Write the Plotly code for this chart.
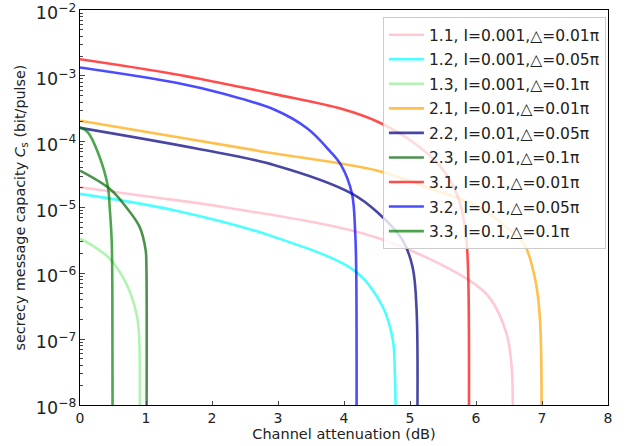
import plotly.graph_objects as go

# ---- data ----
labels = [
    "1.1, I=0.001,△=0.01π", "1.2, I=0.001,△=0.05π", "1.3, I=0.001,△=0.1π",
    "2.1, I=0.01,△=0.01π", "2.2, I=0.01,△=0.05π", "2.3, I=0.01,△=0.1π",
    "3.1, I=0.1,△=0.01π", "3.2, I=0.1,△=0.05π", "3.3, I=0.1,△=0.1π",
]

x11 = [0, 1.0, 2.19, 4.49, 5.90, 6.21, 6.46, 6.54, 6.55]
y11 = [2.03e-5, 1.48e-5, 1.01e-5, 3.5e-6, 7.8e-7, 4.2e-7, 1.23e-7, 3.8e-8, 1e-9]

x12 = [0, 1.44, 2.95, 4.19, 4.59, 4.74, 4.77, 4.79]
y12 = [1.61e-5, 9.0e-6, 3.55e-6, 1.04e-6, 3.05e-7, 9.7e-8, 3.2e-8, 1e-9]

x13 = [0, 0.2, 0.45, 0.70, 0.855, 0.894, 0.895]
y13 = [3.36e-6, 2.6e-6, 1.67e-6, 7.0e-7, 2.45e-7, 1.23e-7, 1e-9]

x21 = [0, 2.69, 4.51, 5.27, 6.02, 6.52, 6.74, 6.90, 6.97, 6.99]
y21 = [2.08e-4, 7.3e-5, 3.63e-5, 2.0e-5, 1.04e-5, 4.47e-6, 2.65e-6, 7.8e-7, 1.95e-7, 1e-9]

x22 = [0, 1.78, 2.95, 4.12, 4.51, 4.89, 5.04, 5.10, 5.105]
y22 = [1.62e-4, 7.8e-5, 4.4e-5, 1.63e-5, 8.4e-6, 3.16e-6, 1.23e-6, 2.75e-7, 1e-9]

x23 = [0, 0.45, 0.70, 0.905, 0.995, 1.005, 1.006]
y23 = [3.63e-5, 1.92e-5, 1.01e-5, 5.04e-6, 2.24e-6, 1.48e-6, 1e-9]

x31 = [0, 1.44, 2.95, 3.96, 4.51, 5.01, 5.45, 5.72, 5.84, 5.88, 5.89]
y31 = [1.79e-3, 1.06e-3, 5.28e-4, 3.16e-4, 2.01e-4, 1.04e-4, 4.33e-5, 1.52e-5, 4.49e-6, 1.12e-6, 1e-9]

x32 = [0, 1.44, 2.19, 2.95, 3.45, 3.78, 3.96, 4.12, 4.17, 4.185, 4.19]
y32 = [1.34e-3, 7.9e-4, 5.28e-4, 3.05e-4, 1.57e-4, 7.3e-5, 4.33e-5, 1.63e-5, 4.04e-6, 1.12e-6, 1e-9]

x33 = [0, 0.12, 0.27, 0.42, 0.45, 0.48, 0.49, 0.495]
y33 = [1.66e-4, 1.38e-4, 6.9e-5, 2.15e-5, 1e-5, 3.16e-6, 6.3e-7, 1e-9]

xs = [x11, x12, x13, x21, x22, x23, x31, x32, x33]
ys = [y11, y12, y13, y21, y22, y23, y31, y32, y33]

colors = [
    "rgba(255,192,203,0.85)", "rgba(0,255,255,0.7)", "rgba(144,238,144,0.7)",
    "rgba(255,165,0,0.7)", "rgba(0,0,128,0.72)", "rgba(0,100,0,0.7)",
    "rgba(255,0,0,0.7)", "rgba(0,0,255,0.7)", "rgba(0,128,0,0.7)",
]

xticks = [0, 1, 2, 3, 4, 5, 6, 7, 8]

fig = go.Figure()
for i, (lab, xv, yv, c) in enumerate(zip(labels, xs, ys, colors)):
    fig.add_trace(go.Scatter(x=xv, y=yv, mode="lines", name=lab,
                             legendgroup=f"g{i}",
                             line=dict(color=c, width=2.6, shape="spline", smoothing=1.0)))

font = "DejaVu Sans, Arial, sans-serif"
fig.update_layout(
    width=639, height=446,
    margin=dict(l=80, r=31, t=10, b=41),
    paper_bgcolor="white", plot_bgcolor="white",
    font=dict(family=font, size=13, color="#222"),
    showlegend=True,
    legend=dict(x=0.996, xanchor="right", y=0.982, yanchor="top",
                bgcolor="rgba(255,255,255,0.8)", bordercolor="#cccccc",
                borderwidth=1, font=dict(size=15.5, color="#222"),
                traceorder="grouped", tracegroupgap=1.4, itemwidth=35),
    xaxis=dict(range=[0, 8], tickvals=xticks, ticks="inside", ticklen=4,
               showline=True, linecolor="black", linewidth=1, mirror=True,
               showgrid=False, zeroline=False, automargin=False,
               tickfont=dict(size=14, color="#222"),
               title=dict(text="Channel attenuation (dB)", font=dict(size=14.5), standoff=3)),
    yaxis=dict(type="log", range=[-8.0005, -1.9995], dtick=1, exponentformat="power",
               ticks="inside", ticklen=5, showline=True, linecolor="black",
               linewidth=1, mirror=True, showgrid=False, zeroline=False,
               automargin=False, ticklabeloverflow="allow", ticklabelshift=3,
               tickfont=dict(size=14, color="#222"),
               minor=dict(ticks="inside", ticklen=3, showgrid=False),
               title=dict(text="secrecy message capacity <i>C</i><sub>s</sub> (bit/pulse)",
                          font=dict(size=14.3), standoff=6)),
)

fig.write_html("out.html", config={"displayModeBar": False},
               post_script="document.body.style.margin='0px';document.body.style.overflow='hidden';")
